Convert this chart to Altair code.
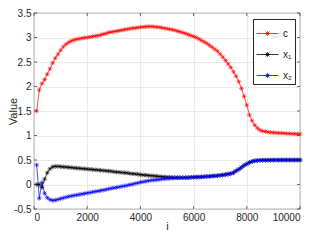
import altair as alt
import pandas as pd

# ---- data ----
steps = list(range(100, 10001, 100))

c_vals = [1.50, 1.93, 2.06, 2.14, 2.25, 2.36, 2.48, 2.58, 2.66, 2.74,
          2.81, 2.86, 2.90, 2.93, 2.95, 2.965, 2.975, 2.985, 2.995, 3.00,
          3.01, 3.02, 3.03, 3.04, 3.05, 3.07, 3.08, 3.10, 3.11, 3.12,
          3.13, 3.14, 3.15, 3.16, 3.17, 3.18, 3.19, 3.195, 3.20, 3.21,
          3.215, 3.22, 3.225, 3.225, 3.22, 3.215, 3.21, 3.20, 3.19, 3.18,
          3.17, 3.16, 3.145, 3.13, 3.115, 3.10, 3.08, 3.06, 3.04, 3.02,
          3.00, 2.97, 2.94, 2.91, 2.88, 2.84, 2.80, 2.76, 2.72, 2.66,
          2.60, 2.53, 2.46, 2.39, 2.30, 2.21, 2.10, 1.96, 1.80, 1.62,
          1.42, 1.30, 1.21, 1.15, 1.11, 1.09, 1.08, 1.07, 1.065, 1.06,
          1.055, 1.05, 1.05, 1.045, 1.04, 1.04, 1.035, 1.035, 1.03, 1.03]

x1_vals = [0.00, 0.00, -0.06, 0.11, 0.24, 0.32, 0.36, 0.37, 0.37, 0.365,
           0.36, 0.355, 0.35, 0.345, 0.34, 0.335, 0.33, 0.325, 0.32, 0.315,
           0.31, 0.305, 0.30, 0.295, 0.29, 0.285, 0.28, 0.275, 0.27, 0.26,
           0.255, 0.25, 0.245, 0.24, 0.235, 0.225, 0.22, 0.215, 0.21, 0.20,
           0.195, 0.19, 0.185, 0.18, 0.175, 0.17, 0.165, 0.16, 0.155, 0.15,
           0.148, 0.145, 0.143, 0.142, 0.14, 0.14, 0.14, 0.142, 0.145, 0.148,
           0.15, 0.153, 0.156, 0.16, 0.163, 0.167, 0.171, 0.176, 0.181, 0.187,
           0.194, 0.202, 0.212, 0.224, 0.24, 0.28, 0.31, 0.35, 0.39, 0.42,
           0.45, 0.47, 0.483, 0.49, 0.493, 0.495, 0.496, 0.497, 0.498, 0.498,
           0.499, 0.499, 0.50, 0.50, 0.50, 0.50, 0.50, 0.50, 0.50, 0.50]

x2_vals = [0.40, -0.28, 0.04, -0.18, -0.27, -0.31, -0.325, -0.32, -0.305, -0.29,
           -0.275, -0.26, -0.245, -0.235, -0.225, -0.215, -0.205, -0.195, -0.185, -0.175,
           -0.165, -0.155, -0.145, -0.135, -0.125, -0.115, -0.105, -0.09, -0.08, -0.07,
           -0.06, -0.05, -0.04, -0.03, -0.02, -0.005, 0.005, 0.02, 0.03, 0.045,
           0.055, 0.065, 0.075, 0.085, 0.09, 0.095, 0.10, 0.11, 0.115, 0.12,
           0.125, 0.13, 0.133, 0.136, 0.138, 0.14, 0.14, 0.142, 0.145, 0.148,
           0.15, 0.153, 0.156, 0.16, 0.163, 0.167, 0.171, 0.176, 0.181, 0.187,
           0.194, 0.202, 0.212, 0.224, 0.24, 0.28, 0.31, 0.35, 0.39, 0.42,
           0.45, 0.47, 0.483, 0.49, 0.493, 0.495, 0.496, 0.497, 0.498, 0.498,
           0.499, 0.499, 0.50, 0.50, 0.50, 0.50, 0.50, 0.50, 0.50, 0.50]

x_ticks = [0, 2000, 4000, 6000, 8000, 10000]
y_ticks = [-0.5, 0, 0.5, 1, 1.5, 2, 2.5, 3, 3.5]
series_names = ["c", "x\u2081", "x\u2082"]
series_colors = ["#ff0000", "#000000", "#0000ff"]

rows = []
for k, (name, vals) in enumerate(zip(series_names, [c_vals, x1_vals, x2_vals])):
    for i, v in zip(steps, vals):
        rows.append({"i": i, "value": v, "series": name, "ord": k})
df = pd.DataFrame(rows)
xt = pd.DataFrame({"i": x_ticks})
yt = pd.DataFrame({"value": y_ticks})

W, H = 266, 196
FONT = "Liberation Sans"
AX = "#262626"
STAR = "M-1,0L1,0M0,-1L0,1M-0.7,-0.7L0.7,0.7M-0.7,0.7L0.7,-0.7"
LEG = ("M-1,0L1,0M0,-0.22L0,0.22M-0.16,-0.16L0.16,0.16"
       "M-0.16,0.16L0.16,-0.16M-0.22,0L0.22,0")

xs = alt.Scale(domain=[0, 10000], nice=False, zero=False)
ys = alt.Scale(domain=[-0.5, 3.5], nice=False, zero=False)

x_axis = alt.Axis(values=x_ticks, format="d", title="i", grid=True, tickSize=0,
                  domain=False, labelPadding=3, titleY=11.5, titleBaseline="top")
y_axis = alt.Axis(values=y_ticks, labelExpr="toString(datum.value)", title="Value",
                  grid=True, tickSize=0, domain=False, labelPadding=3,
                  titleX=-17.5, titleY=H / 2, titleBaseline="alphabetic")

X = alt.X("i:Q", scale=xs, axis=x_axis)
Y = alt.Y("value:Q", scale=ys, axis=y_axis)

color = alt.Color("series:N", scale=alt.Scale(domain=series_names, range=series_colors),
                  sort=series_names,
                  legend=alt.Legend(title=None, orient="none", legendX=219, legendY=6,
                                    symbolType=LEG, symbolSize=484, symbolStrokeWidth=0.8,
                                    symbolFillColor="transparent",
                                    strokeColor=AX, fillColor="white", padding=3,
                                    labelFont=FONT, labelFontSize=10, labelColor=AX,
                                    labelOffset=4, rowPadding=4, cornerRadius=0))

lines = alt.Chart(df).mark_line(strokeWidth=0.7).encode(
    x=X, y=Y, color=color, detail="series:N", order="i:Q",
)
points = alt.Chart(df).mark_point(shape=STAR, size=22, strokeWidth=0.6, filled=False,
                                  opacity=1).encode(
    x=X, y=Y, color=color, order="ord:Q",
)

tick_style = dict(color=AX, strokeWidth=0.7)
yl = alt.Chart(yt).mark_rule(**tick_style).encode(y=Y, x=alt.value(0), x2=alt.value(3))
yr = alt.Chart(yt).mark_rule(**tick_style).encode(y=Y, x=alt.value(W - 3), x2=alt.value(W))
xb = alt.Chart(xt).mark_rule(**tick_style).encode(x=X, y=alt.value(H - 3), y2=alt.value(H))
xtp = alt.Chart(xt).mark_rule(**tick_style).encode(x=X, y=alt.value(0), y2=alt.value(3))

chart = alt.layer(lines, points, yl, yr, xb, xtp).properties(
    width=W, height=H,
    autosize=alt.AutoSizeParams(type="none"),
    padding={"left": 26, "top": 5, "right": 14, "bottom": 23},
).configure_view(
    stroke=AX, strokeWidth=0.8
).configure_axis(
    labelFont=FONT, labelFontSize=10, labelColor=AX,
    titleFont=FONT, titleFontSize=11, titleColor=AX, titleFontWeight="normal",
    gridColor="#e4e4e4", gridWidth=0.8,
)

chart.save("out.html", embed_options={"renderer": "svg", "actions": False})
